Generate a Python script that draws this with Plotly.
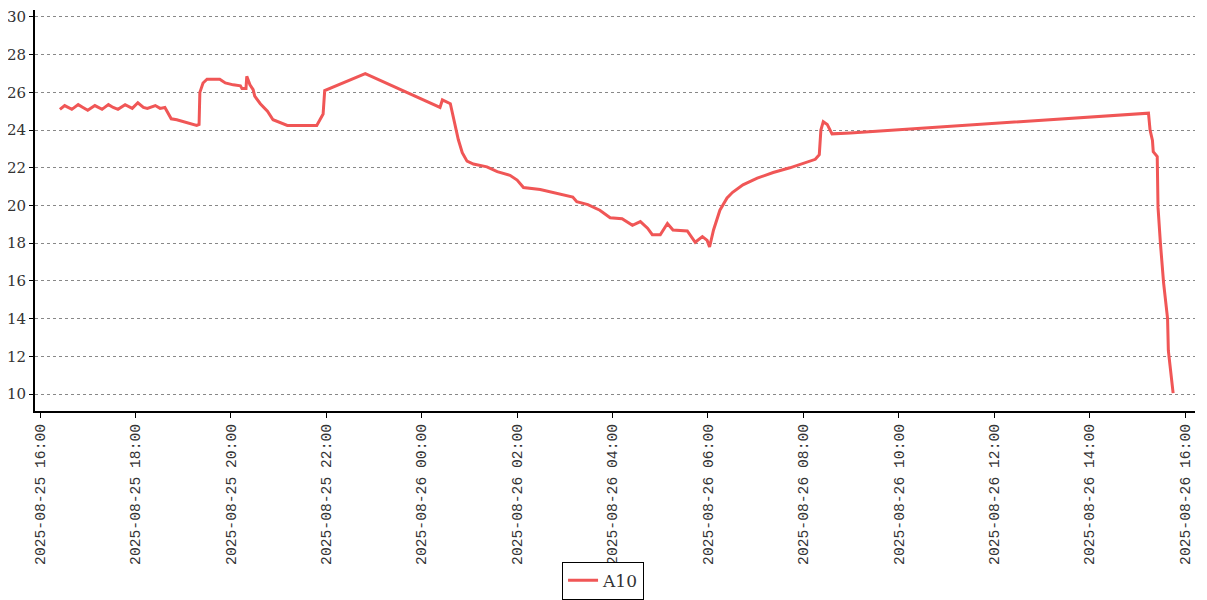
import plotly.graph_objects as go

times = [
    "2025-08-25 16:25", "2025-08-25 16:31", "2025-08-25 16:40", "2025-08-25 16:48", "2025-08-25 16:54",
    "2025-08-25 17:00", "2025-08-25 17:09", "2025-08-25 17:18", "2025-08-25 17:26", "2025-08-25 17:32",
    "2025-08-25 17:38", "2025-08-25 17:47", "2025-08-25 17:56", "2025-08-25 18:03", "2025-08-25 18:10",
    "2025-08-25 18:15", "2025-08-25 18:25", "2025-08-25 18:31", "2025-08-25 18:37", "2025-08-25 18:41",
    "2025-08-25 18:45", "2025-08-25 18:52", "2025-08-25 19:05", "2025-08-25 19:17", "2025-08-25 19:20",
    "2025-08-25 19:21", "2025-08-25 19:25", "2025-08-25 19:30", "2025-08-25 19:46", "2025-08-25 19:53",
    "2025-08-25 20:03", "2025-08-25 20:12", "2025-08-25 20:14", "2025-08-25 20:19", "2025-08-25 20:20",
    "2025-08-25 20:24", "2025-08-25 20:28", "2025-08-25 20:30", "2025-08-25 20:37", "2025-08-25 20:46",
    "2025-08-25 20:53", "2025-08-25 21:02", "2025-08-25 21:11", "2025-08-25 21:48", "2025-08-25 21:50",
    "2025-08-25 21:56", "2025-08-25 21:58", "2025-08-25 22:09", "2025-08-25 22:20", "2025-08-25 22:34",
    "2025-08-25 22:49",
    "2025-08-26 00:23", "2025-08-26 00:26", "2025-08-26 00:36", "2025-08-26 00:42", "2025-08-26 00:46",
    "2025-08-26 00:51", "2025-08-26 00:57", "2025-08-26 01:05", "2025-08-26 01:22", "2025-08-26 01:35",
    "2025-08-26 01:51", "2025-08-26 02:00", "2025-08-26 02:08", "2025-08-26 02:29", "2025-08-26 02:50",
    "2025-08-26 03:10", "2025-08-26 03:15", "2025-08-26 03:29", "2025-08-26 03:44", "2025-08-26 03:57",
    "2025-08-26 04:12", "2025-08-26 04:25", "2025-08-26 04:35", "2025-08-26 04:44", "2025-08-26 04:50",
    "2025-08-26 05:00", "2025-08-26 05:09", "2025-08-26 05:16", "2025-08-26 05:34", "2025-08-26 05:44",
    "2025-08-26 05:53", "2025-08-26 05:59", "2025-08-26 06:02", "2025-08-26 06:07", "2025-08-26 06:15",
    "2025-08-26 06:24", "2025-08-26 06:31", "2025-08-26 06:37", "2025-08-26 06:44", "2025-08-26 07:02",
    "2025-08-26 07:22", "2025-08-26 07:43", "2025-08-26 08:05", "2025-08-26 08:15", "2025-08-26 08:20",
    "2025-08-26 08:22", "2025-08-26 08:25", "2025-08-26 08:30", "2025-08-26 08:36", "2025-08-26 08:59",
    "2025-08-26 15:14", "2025-08-26 15:16", "2025-08-26 15:19", "2025-08-26 15:20", "2025-08-26 15:25",
    "2025-08-26 15:26", "2025-08-26 15:29", "2025-08-26 15:33", "2025-08-26 15:38", "2025-08-26 15:39",
    "2025-08-26 15:45",
]
a10 = [
    25.1, 25.3, 25.1, 25.35, 25.2,
    25.05, 25.3, 25.1, 25.35, 25.2,
    25.1, 25.35, 25.15, 25.45, 25.2,
    25.15, 25.3, 25.15, 25.2, 24.9,
    24.6, 24.55, 24.4, 24.25, 24.3,
    26.0, 26.5, 26.7, 26.7, 26.5,
    26.4, 26.35, 26.2, 26.2, 26.85,
    26.4, 26.15, 25.8, 25.4, 25.0,
    24.55, 24.4, 24.25, 24.25, 24.4,
    24.85, 26.1, 26.3, 26.5, 26.75,
    27.0,
    25.2, 25.6, 25.4, 24.2, 23.5,
    22.8, 22.35, 22.2, 22.05, 21.8,
    21.6, 21.35, 20.95, 20.85, 20.65,
    20.45, 20.2, 20.05, 19.75, 19.35,
    19.3, 18.95, 19.15, 18.8, 18.45,
    18.45, 19.05, 18.7, 18.65, 18.05,
    18.35, 18.15, 17.8, 18.7, 19.75,
    20.4, 20.7, 20.9, 21.1, 21.45,
    21.75, 22.0, 22.3, 22.45, 22.7,
    24.0, 24.45, 24.3, 23.8, 23.85,
    24.9, 24.0, 23.45, 22.85, 22.6,
    19.9, 18.0, 15.9, 14.0, 12.3,
    10.05,
]
x_ticks = [
    "2025-08-25 16:00", "2025-08-25 18:00", "2025-08-25 20:00", "2025-08-25 22:00",
    "2025-08-26 00:00", "2025-08-26 02:00", "2025-08-26 04:00", "2025-08-26 06:00",
    "2025-08-26 08:00", "2025-08-26 10:00", "2025-08-26 12:00", "2025-08-26 14:00",
    "2025-08-26 16:00",
]
y_ticks = [10, 12, 14, 16, 18, 20, 22, 24, 26, 28, 30]

fig = go.Figure()
fig.add_trace(go.Scatter(
    x=times, y=a10, mode="lines", name="A10",
    line=dict(color="#f05656", width=3),
))

fig.update_layout(
    width=1207, height=600,
    margin=dict(l=27, r=20, t=2, b=197, autoexpand=False),
    plot_bgcolor="white", paper_bgcolor="white",
    font=dict(family="DejaVu Serif", size=15, color="#333333"),
    showlegend=True,
    legend=dict(
        orientation="h", xref="container", yref="container",
        x=0.493, xanchor="center", y=0.077, yanchor="top",
        bordercolor="black", borderwidth=1,
        font=dict(family="DejaVu Serif", size=17, color="#333333"),
    ),
    xaxis=dict(
        type="date",
        range=["2025-08-25 15:53:40", "2025-08-26 16:12:30"],
        tickmode="array", tickvals=x_ticks, ticktext=x_ticks,
        tickangle=-90, automargin=False,
        tickfont=dict(family="Liberation Mono", size=14.7, color="#333333"),
        showgrid=False, zeroline=False,
        showline=True, linecolor="black", linewidth=2,
        ticks="outside", ticklen=5, tickcolor="black",
    ),
    yaxis=dict(
        range=[9.1, 30.37], automargin=False,
        tickmode="array", tickvals=y_ticks,
        tickfont=dict(family="DejaVu Serif", size=15, color="#333333"),
        showgrid=True, gridcolor="#888888", griddash="dot", gridwidth=1,
        zeroline=False,
        showline=True, linecolor="black", linewidth=2,
        ticks="outside", ticklen=4, tickcolor="black",
    ),
)

fig.write_html("out.html")
